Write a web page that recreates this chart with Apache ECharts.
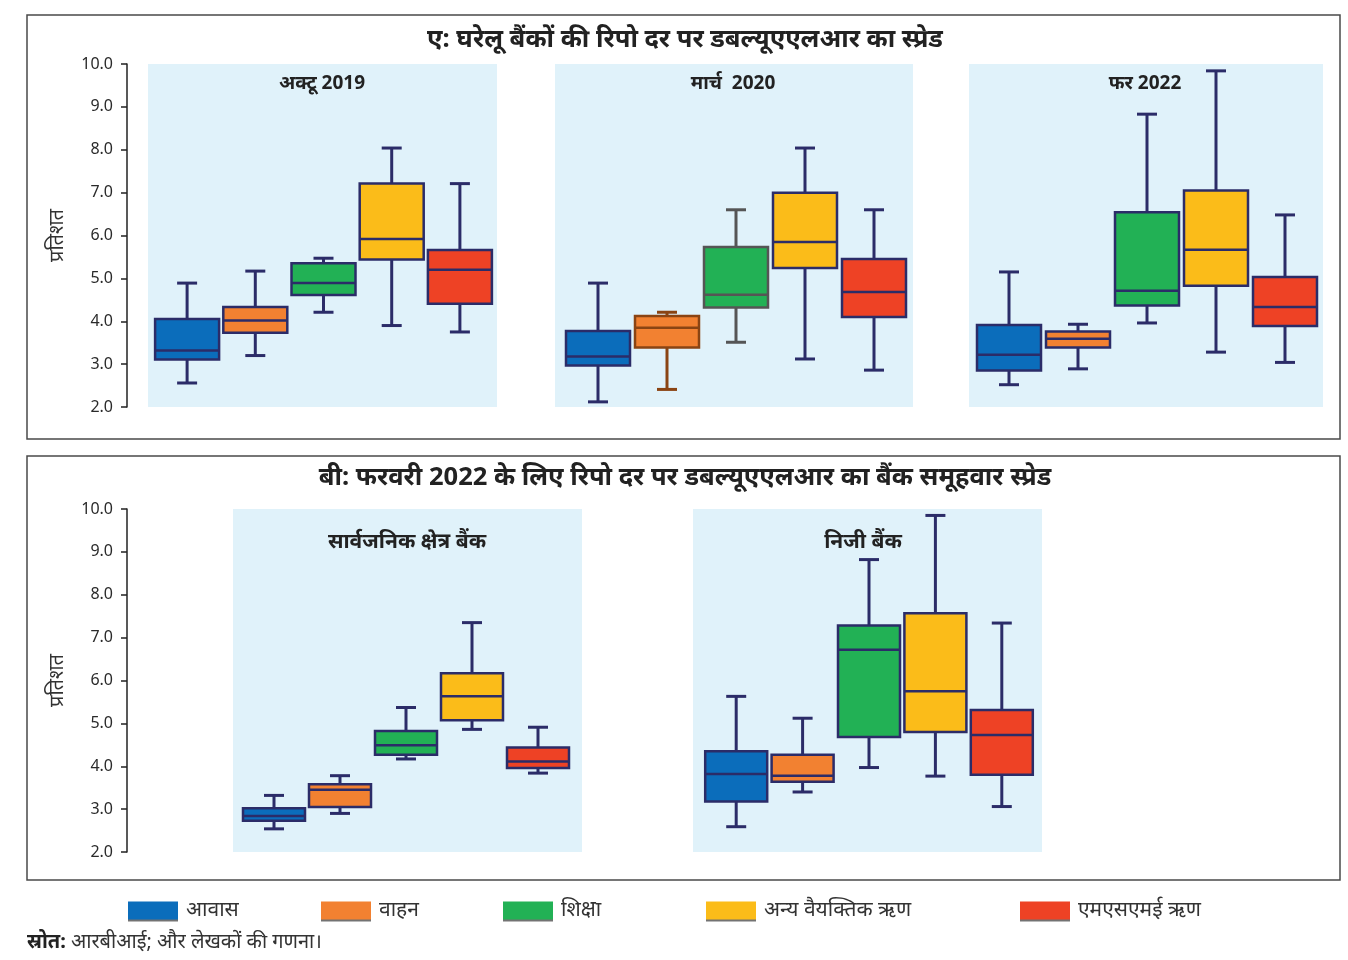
<!DOCTYPE html>
<html>
<head>
<meta charset="utf-8">
<script src="https://cdn.jsdelivr.net/npm/echarts@6/dist/echarts.min.js"></script>
<style>
  html, body { margin: 0; padding: 0; background: #ffffff; }
  #chart { width: 1348px; height: 960px; }
</style>
</head>
<body>
<div id="chart"></div>
<script>
// Loan categories (legend order)
const categories = ['आवास', 'वाहन', 'शिक्षा', 'अन्य वैयक्तिक ऋण', 'एमएसएमई ऋण'];

// Box values per category: [min, Q1, median, Q3, max] (per cent)
const oct2019 = [
  [2.56, 3.11, 3.32, 4.05, 4.89],
  [3.20, 3.73, 4.02, 4.33, 5.17],
  [4.21, 4.61, 4.89, 5.35, 5.47],
  [3.90, 5.44, 5.92, 7.21, 8.04],
  [3.75, 4.41, 5.20, 5.66, 7.21]
];
const mar2020 = [
  [2.12, 2.97, 3.18, 3.77, 4.89],
  [2.41, 3.39, 3.85, 4.12, 4.21],
  [3.51, 4.32, 4.62, 5.73, 6.60],
  [3.12, 5.24, 5.85, 7.00, 8.04],
  [2.86, 4.10, 4.68, 5.45, 6.60]
];
const feb2022 = [
  [2.52, 2.85, 3.22, 3.91, 5.15],
  [2.89, 3.39, 3.59, 3.76, 3.93],
  [3.96, 4.37, 4.71, 6.54, 8.83],
  [3.28, 4.83, 5.67, 7.05, 9.84],
  [3.04, 3.89, 4.33, 5.03, 6.48]
];
const psbFeb2022 = [
  [2.54, 2.73, 2.84, 3.02, 3.32],
  [2.90, 3.05, 3.45, 3.58, 3.78],
  [4.17, 4.27, 4.49, 4.82, 5.37],
  [4.86, 5.07, 5.63, 6.17, 7.35],
  [3.84, 3.96, 4.11, 4.44, 4.91]
];
const pvtFeb2022 = [
  [2.59, 3.18, 3.82, 4.35, 5.63],
  [3.40, 3.64, 3.78, 4.27, 5.12],
  [3.97, 4.68, 6.72, 7.28, 8.82],
  [3.77, 4.80, 5.75, 7.57, 9.85],
  [3.06, 3.80, 4.73, 5.31, 7.34]
];

// Value axis range and tick labels
const yMin = 2, yMax = 10, yStep = 1;
const yTickLabels = ['2.0', '3.0', '4.0', '5.0', '6.0', '7.0', '8.0', '9.0', '10.0'];

// Text
const titleA = 'ए: घरेलू बैंकों की रिपो दर पर डबल्यूएएलआर का स्प्रेड';
const titleB = 'बी: फरवरी 2022 के लिए रिपो दर पर डबल्यूएएलआर का बैंक समूहवार स्प्रेड';
const panelTitles = ['अक्टू 2019', 'मार्च  2020', 'फर 2022', 'सार्वजनिक क्षेत्र बैंक', 'निजी बैंक'];
const yName = 'प्रतिशत';
const sourceLabel = 'स्रोत:';
const sourceText = ' आरबीआई; और लेखकों की गणना।';

// ---- styling / layout ----
const fills = ['#0b6dbb', '#f28131', '#22b155', '#fbbc19', '#ee4225'];
const navy = '#2b2c68';
const FONT = '"Noto Sans", "Open Sans", sans-serif';

const panels = [
  { data: oct2019,    grid: { left: 153,   width: 341, top: 64,  height: 343 }, bg: [148, 64, 349, 343], boxW: 64, title: [322, 84, 19] },
  { data: mar2020,    grid: { left: 563.5, width: 345, top: 64,  height: 343 }, bg: [555, 64, 358, 343], boxW: 64, title: [733, 84, 19],
    strokes: [null, '#8a4413', '#555555', null, null] },
  { data: feb2022,    grid: { left: 974.5, width: 345, top: 64,  height: 343 }, bg: [969, 64, 354, 343], boxW: 64, title: [1145, 84, 19] },
  { data: psbFeb2022, grid: { left: 241,   width: 330, top: 509, height: 343 }, bg: [233, 509, 349, 343], boxW: 62, title: [407, 542, 21] },
  { data: pvtFeb2022, grid: { left: 703,   width: 332, top: 509, height: 343 }, bg: [693, 509, 349, 343], boxW: 62, title: [863, 542, 21] }
];
const axisLineX = 127;

const grids = [], xAxes = [], yAxes = [], series = [];
panels.forEach((p, pi) => {
  grids.push(Object.assign({ containLabel: false }, p.grid));
  xAxes.push({ gridIndex: pi, type: 'category', data: categories, show: false, boundaryGap: true });
  const showY = (pi === 0 || pi === 3);
  yAxes.push({
    gridIndex: pi, type: 'value', min: yMin, max: yMax, interval: yStep,
    show: showY,
    offset: showY ? p.grid.left - axisLineX : 0,
    name: showY ? yName : '',
    nameLocation: 'middle',
    nameGap: 60,
    nameTextStyle: { fontFamily: FONT, fontSize: 20, color: '#333' },
    axisLine: { show: true, lineStyle: { color: '#222', width: 1.5 } },
    axisTick: { show: true, length: 6, lineStyle: { color: '#222', width: 1.5 } },
    axisLabel: {
      margin: 14, fontFamily: FONT, fontSize: 16, color: '#2a2a2a',
      formatter: v => yTickLabels[Math.round((v - yMin) / yStep)]
    },
    splitLine: { show: false }
  });
  categories.forEach((cat, ci) => {
    const stroke = (p.strokes && p.strokes[ci]) || navy;
    const boxW = p.boxW, capW = 20;
    series.push({
      type: 'custom',
      name: cat,
      xAxisIndex: pi,
      yAxisIndex: pi,
      itemStyle: { color: fills[ci] },
      encode: { x: 0, y: [1, 2, 3, 4, 5] },
      data: [[ci].concat(p.data[ci])],
      z: 3,
      renderItem: function (params, api) {
        const idx = api.value(0);
        const pt = d => api.coord([idx, api.value(d)]);
        const x = pt(1)[0];
        const yLo = pt(1)[1], yQ1 = pt(2)[1], yMed = pt(3)[1], yQ3 = pt(4)[1], yHi = pt(5)[1];
        const ls = { stroke: stroke, lineWidth: 3, fill: null };
        const hLine = (y, w) => ({ type: 'line', shape: { x1: x - w / 2, y1: y, x2: x + w / 2, y2: y }, style: ls });
        return {
          type: 'group',
          children: [
            { type: 'line', shape: { x1: x, y1: yQ3, x2: x, y2: yHi }, style: ls },
            { type: 'line', shape: { x1: x, y1: yQ1, x2: x, y2: yLo }, style: ls },
            hLine(yHi, capW),
            hLine(yLo, capW),
            { type: 'rect', shape: { x: x - boxW / 2, y: yQ3, width: boxW, height: yQ1 - yQ3 },
              style: { fill: fills[ci], stroke: stroke, lineWidth: 2.5 } },
            Object.assign(hLine(yMed, boxW), { style: { stroke: stroke, lineWidth: 2.5 } })
          ]
        };
      }
    });
  });
});

// Legend: one component per entry so each sits at its own position
const legendLefts = [123, 316, 498, 701, 1015];
const legends = categories.map((cat, ci) => ({
  left: legendLefts[ci], top: 895,
  data: [{ name: cat, icon: 'rect', itemStyle: { color: fills[ci], borderWidth: 0, shadowColor: 'rgba(0,0,0,0.55)', shadowOffsetY: 2, shadowBlur: 0 } }],
  itemWidth: 50, itemHeight: 18, selectedMode: false,
  textStyle: { fontFamily: FONT, fontSize: 21, color: '#333', padding: [0, 0, 0, 3] }
}));

// Decorations: frames, panel shading, titles, source note
const graphics = [
  { type: 'rect', shape: { x: 27, y: 15, width: 1313, height: 424 }, style: { fill: null, stroke: '#4a4a4a', lineWidth: 1.5 }, z: 0 },
  { type: 'rect', shape: { x: 27, y: 456, width: 1313, height: 424 }, style: { fill: null, stroke: '#4a4a4a', lineWidth: 1.5 }, z: 0 },
  { type: 'text', x: 685, y: 40, style: { text: titleA, align: 'center', verticalAlign: 'middle', fontFamily: FONT, fontSize: 25.5, fontWeight: 'bold', fill: '#222' } },
  { type: 'text', x: 685, y: 478, style: { text: titleB, align: 'center', verticalAlign: 'middle', fontFamily: FONT, fontSize: 25.5, fontWeight: 'bold', fill: '#222' } },
  { type: 'text', x: 27, y: 942, style: {
      text: '{b|' + sourceLabel + '}{n|' + sourceText + '}', verticalAlign: 'middle',
      rich: { b: { fontFamily: FONT, fontSize: 20, fontWeight: 'bold', fill: '#222' }, n: { fontFamily: FONT, fontSize: 20, fill: '#333' } } } }
];
panels.forEach((p, pi) => {
  graphics.push({ type: 'rect', shape: { x: p.bg[0], y: p.bg[1], width: p.bg[2], height: p.bg[3] }, style: { fill: '#e0f2fa' }, z: -10 });
  graphics.push({ type: 'text', x: p.title[0], y: p.title[1], z: 10,
    style: { text: panelTitles[pi], align: 'center', verticalAlign: 'middle', fontFamily: FONT, fontSize: p.title[2], fontWeight: 'bold', fill: '#222' } });
});

const chart = echarts.init(document.getElementById('chart'), null, { renderer: 'canvas' });
chart.setOption({
  animation: false,
  backgroundColor: '#ffffff',
  grid: grids,
  xAxis: xAxes,
  yAxis: yAxes,
  legend: legends,
  graphic: { elements: graphics },
  series: series
});
</script>
</body>
</html>
